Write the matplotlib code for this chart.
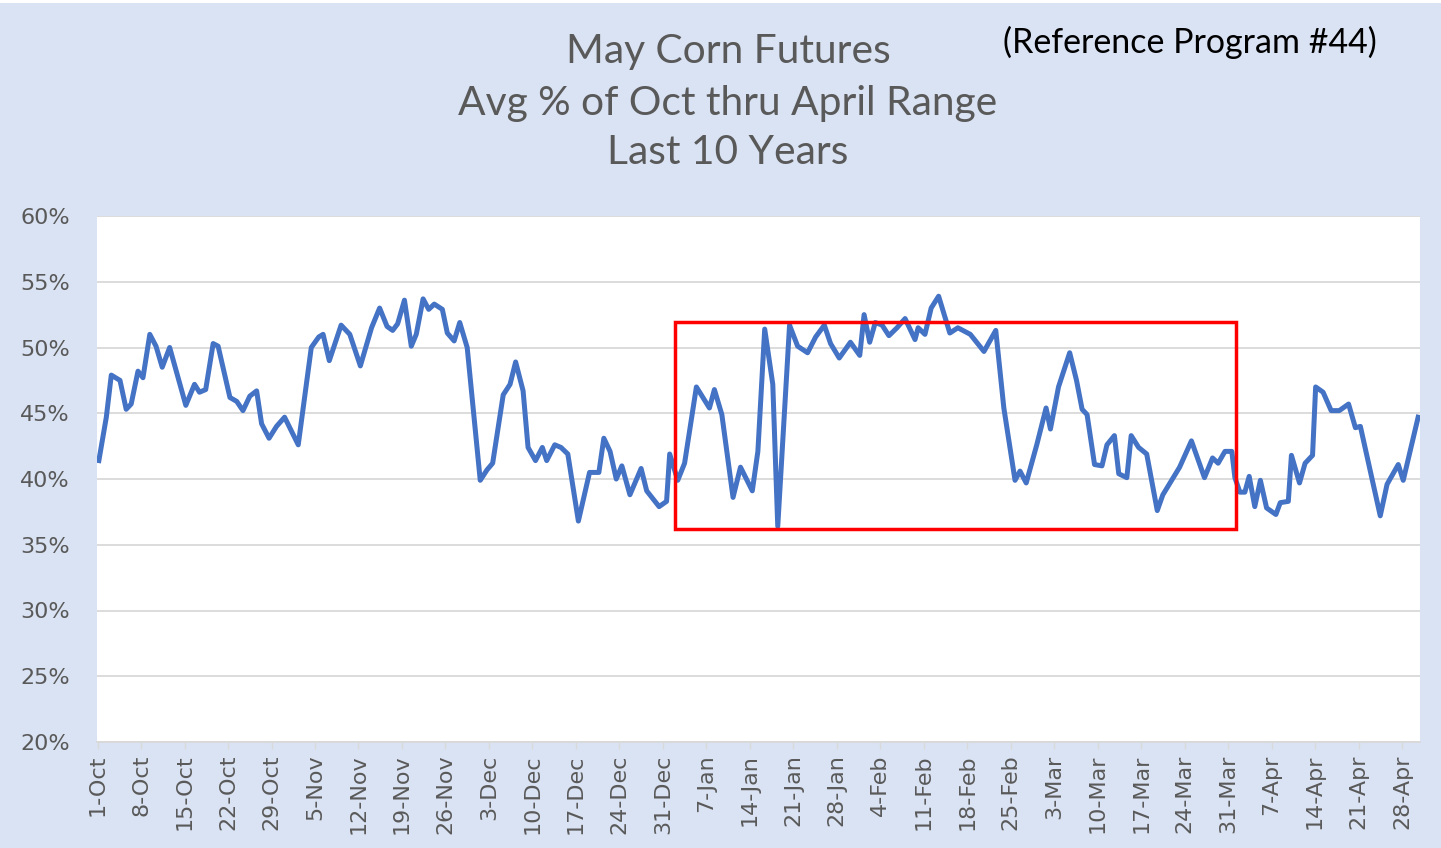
import matplotlib
matplotlib.use("Agg")
import matplotlib.pyplot as plt
from matplotlib.patches import Rectangle
import numpy as np

# ---- data (days since 1-Oct, leap-year season) ----
days = [0.2, 1.4, 2.2, 3.6, 4.6, 5.4, 6.5, 7.3, 8.4, 9.4, 10.4, 11.6, 12.9, 14.2, 15.6, 16.4, 17.4, 18.6, 19.4,
        21.3, 22.4, 23.4, 24.5, 25.6, 26.4, 27.6, 28.8, 30.1, 32.3, 34.4, 35.6, 36.3, 37.3, 39.2,
        40.6, 42.3, 44.1, 45.4, 46.6, 47.5, 48.3, 49.4, 50.5, 51.3, 52.4, 53.3, 54.2, 55.5, 56.3, 57.4, 58.3, 59.5,
        61.6, 62.7, 63.6, 65.3, 66.4, 67.3, 68.5, 69.3, 70.5, 71.6, 72.3, 73.6, 74.6, 75.7, 77.4, 79.2,
        80.7, 81.5, 82.5, 83.5, 84.4, 85.7, 87.5, 88.4, 90.4, 91.6, 92.1, 93.4, 94.5, 96.4, 98.5, 99.3,
        100.5, 102.3, 103.5, 105.4, 106.3, 107.4, 108.7, 109.5, 111.4, 112.7, 114.3, 115.6, 117.0, 118.0, 119.4,
        121.2, 122.7, 123.4, 124.3, 125.2, 126.3, 127.4, 128.7, 130.0, 131.6, 132.1, 133.2, 134.2, 135.4, 137.2, 138.5, 140.5,
        142.7, 144.6, 145.9, 147.7, 148.5, 149.5, 151.2, 152.7, 153.4, 154.7, 156.5, 157.6, 158.5, 159.3,
        160.5, 161.7, 162.5, 163.7, 164.4, 165.7, 166.4, 167.6, 168.9, 170.6, 171.5, 174.2, 176.1, 178.2, 179.5,
        180.4, 181.5, 182.6, 183.1, 183.9, 184.7, 185.4, 186.3, 187.2, 188.2, 189.7, 190.4, 191.7, 192.2, 193.5,
        194.4, 195.6, 196.1, 197.3, 198.6, 199.9,
        201.4, 202.5, 203.3, 206.5, 207.6, 209.4, 210.2, 212.6]
pct = [41.4, 44.7, 47.9, 47.5, 45.3, 45.7, 48.2, 47.7, 51.0, 50.1, 48.5, 50.0, 47.8, 45.6, 47.2, 46.6, 46.8, 50.3, 50.1,
       46.2, 45.9, 45.2, 46.3, 46.7, 44.2, 43.1, 44.0, 44.7, 42.6, 50.0, 50.8, 51.0, 49.0, 51.7,
       51.0, 48.6, 51.5, 53.0, 51.6, 51.3, 51.8, 53.6, 50.1, 51.0, 53.7, 52.9, 53.3, 52.9, 51.1, 50.5, 51.9, 50.0,
       39.9, 40.7, 41.2, 46.4, 47.2, 48.9, 46.7, 42.4, 41.4, 42.4, 41.4, 42.6, 42.4, 41.9, 36.8, 40.5,
       40.5, 43.1, 42.1, 40.0, 41.0, 38.8, 40.8, 39.1, 37.9, 38.3, 41.9, 39.9, 41.2, 47.0, 45.4, 46.8,
       44.9, 38.6, 40.9, 39.1, 42.1, 51.4, 47.2, 36.4, 51.7, 50.1, 49.6, 50.8, 51.7, 50.3, 49.2,
       50.4, 49.4, 52.5, 50.4, 51.9, 51.7, 50.9, 51.5, 52.2, 50.6, 51.5, 51.0, 53.0, 53.9, 51.1, 51.5, 51.0,
       49.7, 51.3, 45.4, 39.9, 40.6, 39.7, 42.6, 45.4, 43.8, 47.0, 49.6, 47.5, 45.3, 44.9,
       41.1, 41.0, 42.6, 43.3, 40.4, 40.1, 43.3, 42.4, 41.9, 37.6, 38.8, 40.9, 42.9, 40.1, 41.6,
       41.2, 42.1, 42.1, 40.1, 39.0, 39.0, 40.2, 37.9, 39.9, 37.8, 37.3, 38.2, 38.3, 41.8, 39.7,
       41.2, 41.8, 47.0, 46.6, 45.2, 45.2,
       45.7, 43.9, 44.0, 37.2, 39.6, 41.1, 39.9, 44.7]

tick_labels = ["1-Oct", "8-Oct", "15-Oct", "22-Oct", "29-Oct", "5-Nov", "12-Nov", "19-Nov", "26-Nov",
               "3-Dec", "10-Dec", "17-Dec", "24-Dec", "31-Dec", "7-Jan", "14-Jan", "21-Jan", "28-Jan",
               "4-Feb", "11-Feb", "18-Feb", "25-Feb", "3-Mar", "10-Mar", "17-Mar", "24-Mar", "31-Mar",
               "7-Apr", "14-Apr", "21-Apr", "28-Apr"]
y_ticks = [20, 25, 30, 35, 40, 45, 50, 55, 60]

# highlight box (days, pct)
box_x0, box_x1 = 92.9, 183.3
box_y0, box_y1 = 36.2, 51.95

title_lines = ["May Corn Futures", "Avg % of Oct thru April Range", "Last 10 Years"]
ref_text = "(Reference Program #44)"

BG = "#DAE3F3"
GRID = "#D9D9D9"
TXT = "#595959"

fig = plt.figure(figsize=(14.41, 8.48), dpi=100)
fig.patch.set_facecolor(BG)
fig.add_artist(Rectangle((0, 1 - 3/848), 1, 3/848, transform=fig.transFigure,
                         facecolor="white", edgecolor="none"))

ax = fig.add_axes([97/1441, (848-742)/848, (1420-97)/1441, (742-216)/848])
ax.set_facecolor("white")

ax.plot(days, pct, color="#4472C4", lw=3.6, solid_joinstyle="round", zorder=3)

ax.add_patch(Rectangle((box_x0, box_y0), box_x1 - box_x0, box_y1 - box_y0,
                       fill=False, edgecolor="#FF0000", lw=2.5, zorder=4))

ax.set_ylim(20, 60)
ax.set_xlim(-0.1, 212.9)
ax.set_yticks(y_ticks)
ax.set_yticklabels([f"{v}%" for v in y_ticks])
ax.set_xticks(np.arange(len(tick_labels)) * 7)
ax.set_xticklabels(tick_labels, rotation=90)

ax.grid(axis="y", color=GRID, lw=1.3, zorder=0)
for s in ["top", "right", "left"]:
    ax.spines[s].set_visible(False)
ax.spines["bottom"].set_color(GRID)
ax.spines["bottom"].set_linewidth(1.3)
ax.tick_params(axis="y", length=0, pad=19.5, labelsize=16, labelcolor=TXT)
ax.tick_params(axis="x", length=5, width=1, color=GRID, pad=4, labelsize=16, labelcolor=TXT)

ys = [52, 103, 153]
for line, y in zip(title_lines, ys):
    fig.text(728/1441, 1 - y/848, line, ha="center", va="center", fontsize=29.3,
             color=TXT, family="Lato")
fig.text(1190/1441, 1 - 42/848, ref_text, ha="center", va="center", fontsize=24.5,
         color="black", family="Lato")

fig.savefig("out.png", dpi=100, facecolor=BG)
